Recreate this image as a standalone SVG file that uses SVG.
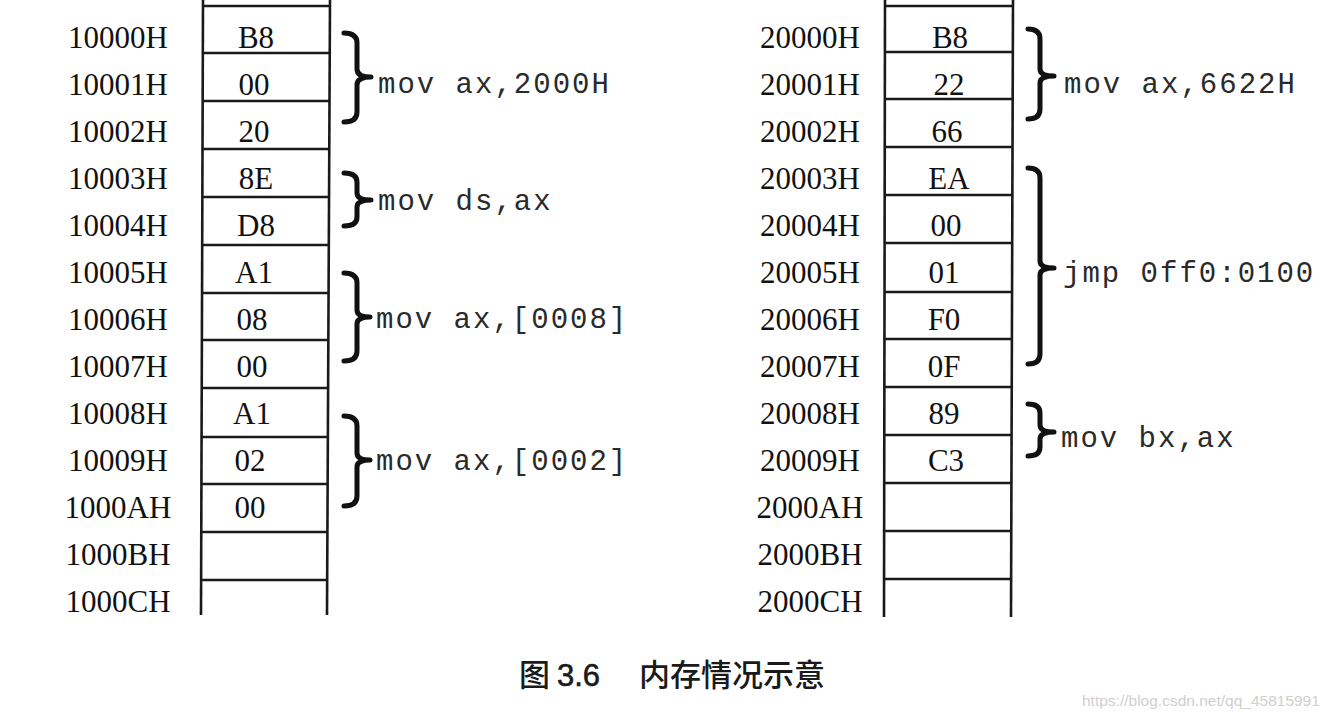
<svg xmlns="http://www.w3.org/2000/svg" width="1336" height="721" viewBox="0 0 1336 721">
<style>
.addr{font-family:"Liberation Serif","Times New Roman",serif;font-size:31px;fill:#111;text-anchor:middle}
.val{font-family:"Liberation Serif","Times New Roman",serif;font-size:31px;fill:#111;text-anchor:middle}
.code{font-family:"Liberation Mono","Courier New",monospace;font-size:29px;letter-spacing:2px;fill:#2a2a2a}
.cell{stroke:#1a1a1a;stroke-width:2.6;fill:none}
.brace{stroke:#111;stroke-width:5;fill:none;stroke-linecap:round;stroke-linejoin:round}
.cap{font-family:"Noto Sans CJK SC","Noto Sans",sans-serif;font-size:31px;font-weight:500;fill:#1a1a1a}
.num{font-family:"Liberation Sans",Arial,sans-serif;font-size:31px;fill:#1a1a1a;stroke:#1a1a1a;stroke-width:0.6}
.wm{font-family:"Liberation Sans",Arial,sans-serif;font-size:15.5px;fill:#cfcfcf}
</style>
<rect width="1336" height="721" fill="#fff"/>

<g id="left-memory">
  <line class="cell" x1="203" y1="0" x2="201" y2="615"/>
  <line class="cell" x1="330" y1="0" x2="327" y2="615"/>
  <g class="cell">
    <line x1="203" y1="6" x2="330" y2="6"/>
    <line x1="203" y1="53" x2="330" y2="53"/>
    <line x1="203" y1="101" x2="330" y2="101"/>
    <line x1="203" y1="149" x2="329" y2="149"/>
    <line x1="203" y1="197" x2="329" y2="197"/>
    <line x1="202" y1="245" x2="329" y2="245"/>
    <line x1="202" y1="293" x2="329" y2="293"/>
    <line x1="202" y1="340" x2="328" y2="340"/>
    <line x1="202" y1="388" x2="328" y2="388"/>
    <line x1="202" y1="437" x2="328" y2="437"/>
    <line x1="202" y1="484" x2="327" y2="484"/>
    <line x1="201" y1="532" x2="327" y2="532"/>
    <line x1="201" y1="580" x2="327" y2="580"/>
  </g>
  <text class="addr" x="118" y="48">10000H</text>
  <text class="addr" x="118" y="95">10001H</text>
  <text class="addr" x="118" y="142">10002H</text>
  <text class="addr" x="118" y="189">10003H</text>
  <text class="addr" x="118" y="236">10004H</text>
  <text class="addr" x="118" y="283">10005H</text>
  <text class="addr" x="118" y="330">10006H</text>
  <text class="addr" x="118" y="377">10007H</text>
  <text class="addr" x="118" y="424">10008H</text>
  <text class="addr" x="118" y="471">10009H</text>
  <text class="addr" x="118" y="518">1000AH</text>
  <text class="addr" x="118" y="565">1000BH</text>
  <text class="addr" x="118" y="612">1000CH</text>
  <text class="val" x="256" y="48">B8</text>
  <text class="val" x="254" y="95">00</text>
  <text class="val" x="254" y="142">20</text>
  <text class="val" x="256" y="189">8E</text>
  <text class="val" x="256" y="236">D8</text>
  <text class="val" x="254" y="283">A1</text>
  <text class="val" x="252" y="330">08</text>
  <text class="val" x="252" y="377">00</text>
  <text class="val" x="252" y="424">A1</text>
  <text class="val" x="250" y="471">02</text>
  <text class="val" x="250" y="518">00</text>
</g>

<g id="right-memory">
  <line class="cell" x1="885" y1="0" x2="884" y2="617"/>
  <line class="cell" x1="1013" y1="0" x2="1011" y2="617"/>
  <g class="cell">
    <line x1="885" y1="6" x2="1013" y2="6"/>
    <line x1="885" y1="52" x2="1013" y2="52"/>
    <line x1="885" y1="99" x2="1013" y2="99"/>
    <line x1="885" y1="147" x2="1013" y2="147"/>
    <line x1="885" y1="195" x2="1012" y2="195"/>
    <line x1="885" y1="243" x2="1012" y2="243"/>
    <line x1="884" y1="292" x2="1012" y2="292"/>
    <line x1="884" y1="339" x2="1012" y2="339"/>
    <line x1="884" y1="387" x2="1012" y2="387"/>
    <line x1="884" y1="435" x2="1012" y2="435"/>
    <line x1="884" y1="483" x2="1011" y2="483"/>
    <line x1="884" y1="531" x2="1011" y2="531"/>
    <line x1="884" y1="579" x2="1011" y2="579"/>
  </g>
  <text class="addr" x="810" y="48">20000H</text>
  <text class="addr" x="810" y="95">20001H</text>
  <text class="addr" x="810" y="142">20002H</text>
  <text class="addr" x="810" y="189">20003H</text>
  <text class="addr" x="810" y="236">20004H</text>
  <text class="addr" x="810" y="283">20005H</text>
  <text class="addr" x="810" y="330">20006H</text>
  <text class="addr" x="810" y="377">20007H</text>
  <text class="addr" x="810" y="424">20008H</text>
  <text class="addr" x="810" y="471">20009H</text>
  <text class="addr" x="810" y="518">2000AH</text>
  <text class="addr" x="810" y="565">2000BH</text>
  <text class="addr" x="810" y="612">2000CH</text>
  <text class="val" x="950" y="48">B8</text>
  <text class="val" x="949" y="95">22</text>
  <text class="val" x="947" y="142">66</text>
  <text class="val" x="949" y="189">EA</text>
  <text class="val" x="946" y="236">00</text>
  <text class="val" x="944" y="283">01</text>
  <text class="val" x="944" y="330">F0</text>
  <text class="val" x="944" y="377">0F</text>
  <text class="val" x="944" y="424">89</text>
  <text class="val" x="946" y="471">C3</text>
</g>

<g id="connectors">
  <path class="brace" d="M344,33 Q357,33 357,43 L357,69 Q357,77 371,77 Q357,77 357,85 L357,112 Q357,122 344,122"/>
  <path class="brace" d="M344,173 Q357,173 357,182 L357,193 Q357,200 371,200 Q357,200 357,207 L357,217 Q357,226 344,226"/>
  <path class="brace" d="M344,273 Q357,273 357,283 L357,310 Q357,317 370,317 Q357,317 357,324 L357,351 Q357,361 344,361"/>
  <path class="brace" d="M344,416 Q357,416 357,426 L357,453 Q357,460 370,460 Q357,460 357,467 L357,496 Q357,506 344,506"/>
  <path class="brace" d="M1028,29 Q1040,29 1040,39 L1040,69 Q1040,76 1054,76 Q1040,76 1040,83 L1040,109 Q1040,119 1028,119"/>
  <path class="brace" d="M1028,168 Q1040,168 1040,178 L1040,261 Q1040,268 1054,268 Q1040,268 1040,275 L1040,354 Q1040,364 1028,364"/>
  <path class="brace" d="M1028,404 Q1040,404 1040,413 L1040,425 Q1040,432 1054,432 Q1040,432 1040,439 L1040,447 Q1040,456 1028,456"/>
</g>

<g id="labels">
  <text class="code" x="378" y="93">mov ax,2000H</text>
  <text class="code" x="378" y="210">mov ds,ax</text>
  <text class="code" x="376" y="328">mov ax,[0008]</text>
  <text class="code" x="376" y="470">mov ax,[0002]</text>
  <text class="code" x="1064" y="93">mov ax,6622H</text>
  <text class="code" x="1063" y="282">jmp 0ff0:0100</text>
  <text class="code" x="1061" y="447">mov bx,ax</text>
</g>

<g id="caption">
  <text class="cap" y="686"><tspan x="519">图</tspan><tspan class="num" x="557">3.6</tspan><tspan x="639">内存情况示意</tspan></text>
</g>
<text class="wm" x="1082" y="706">https://blog.csdn.net/qq_45815991</text>
</svg>
